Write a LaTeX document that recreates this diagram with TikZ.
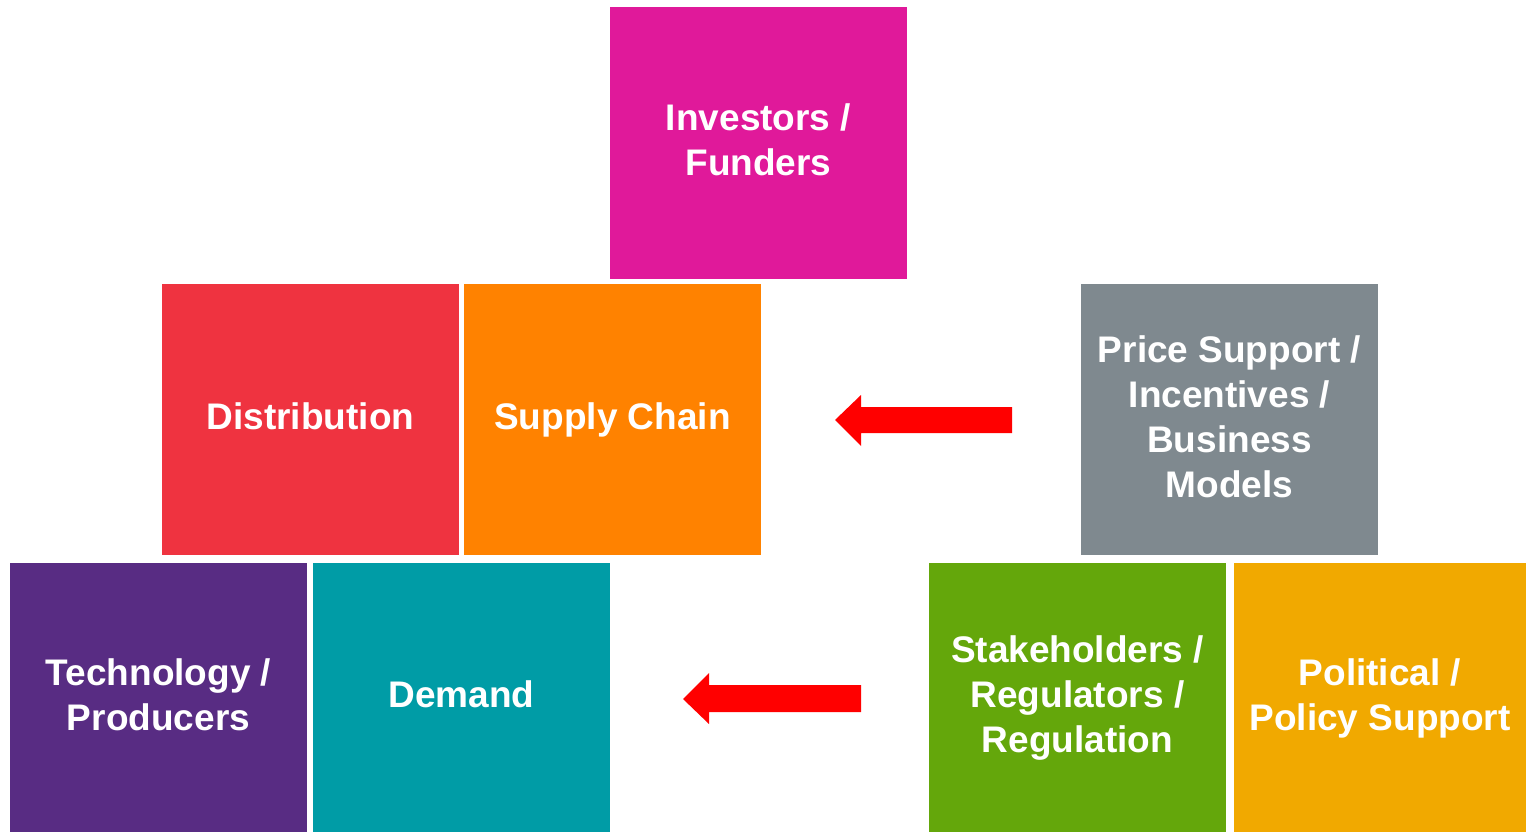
\documentclass[tikz,border=0pt]{standalone}
\usepackage{fontspec}
\setmainfont{Liberation Sans}
\definecolor{cMag}{HTML}{E0199A}
\definecolor{cRed}{HTML}{EF3340}
\definecolor{cOra}{HTML}{FF8200}
\definecolor{cGry}{HTML}{7F898F}
\definecolor{cPur}{HTML}{582C83}
\definecolor{cTea}{HTML}{009CA6}
\definecolor{cGrn}{HTML}{64A70B}
\definecolor{cGld}{HTML}{F1A900}
\definecolor{cArr}{HTML}{FF0000}
\begin{document}
\begin{tikzpicture}[x=1pt,y=-1pt,
  tile/.style={rectangle, inner sep=0pt, minimum width=297pt, minimum height=271pt},
  lbl/.style={inner sep=0pt, text depth=0pt, text=white, align=center, font=\fontsize{37}{45}\selectfont\bfseries},
  bigarrow/.style={fill=cArr, draw=none}]
\useasboundingbox (0,0) rectangle (1526,832);
\node[tile, fill=cMag] (inv) at (758.5,143) {};
\node[tile, fill=cRed] (dist) at (310.5,419.5) {};
\node[tile, fill=cOra] (sup) at (612.5,419.5) {};
\node[tile, fill=cGry] (price) at (1229.5,419.5) {};
\node[tile, fill=cPur, minimum height=269pt] (tech) at (158.5,697.5) {};
\node[tile, fill=cTea, minimum height=269pt] (dem) at (461.5,697.5) {};
\node[tile, fill=cGrn, minimum height=269pt] (stake) at (1077.5,697.5) {};
\node[tile, fill=cGld, minimum height=269pt, minimum width=292pt] (pol) at (1380,697.5) {};
\node[lbl] (invt) at ([yshift=3pt]inv.center) {Investors /\\Funders};
\node[lbl] (distt) at ([yshift=3pt]dist.center) {Distribution};
\node[lbl] (supt) at ([yshift=3pt]sup.center) {Supply Chain};
\node[lbl] (pricet) at ([yshift=3pt]price.center) {Price Support /\\Incentives /\\Business\\Models};
\node[lbl] (techt) at ([yshift=3pt]tech.center) {Technology /\\Producers};
\node[lbl] (demt) at ([yshift=3pt]dem.center) {Demand};
\node[lbl] (staket) at ([yshift=3pt]stake.center) {Stakeholders /\\Regulators /\\Regulation};
\node[lbl] (polt) at ([yshift=3pt]pol.center) {Political /\\Policy Support};
% arrows
\fill[bigarrow] (1012,407) -- (861,407) -- (861,395) -- (835,420) -- (861,446) -- (861,433) -- (1012,433) -- cycle;
\fill[bigarrow] (861,685) -- (709,685) -- (709,673) -- (683,699) -- (709,724) -- (709,712) -- (861,712) -- cycle;
\end{tikzpicture}
\end{document}
